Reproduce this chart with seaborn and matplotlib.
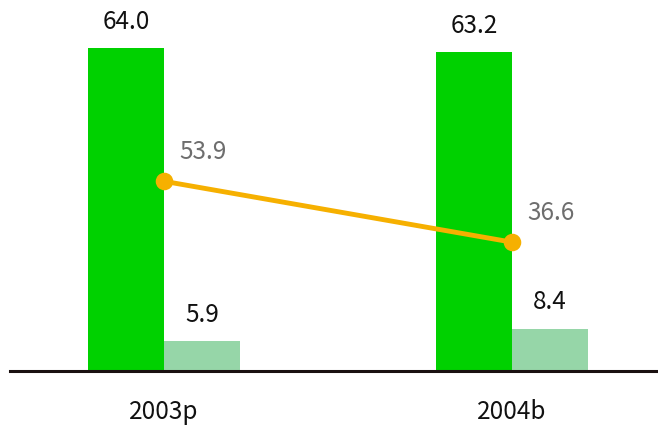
import matplotlib.pyplot as plt
import seaborn as sns
import pandas as pd

# Data
years = ["2003p", "2004b"]
series = ["main", "sub"]
main_vals = [64.0, 63.2]
sub_vals = [5.9, 8.4]
rate_vals = [53.9, 36.6]

bar_colors = ["#00d100", "#96d6a8"]
line_color = "#f6b000"

sns.set_style("white")
plt.rcParams["font.family"] = ["Noto Sans CJK JP", "DejaVu Sans"]

df = pd.DataFrame({
    "year": years * 2,
    "series": [series[0]] * len(years) + [series[1]] * len(years),
    "value": main_vals + sub_vals,
})

fig = plt.figure(figsize=(6.58, 4.30), dpi=100)
ax = fig.add_axes([10 / 658, (430 - 371) / 430, 648 / 658, 371 / 430])

sns.barplot(data=df, x="year", y="value", hue="series", palette=bar_colors,
            width=0.437, gap=0, saturation=1, legend=False, linewidth=0, ax=ax)

# bar value labels
for cont in ax.containers:
    for rect in cont:
        h = rect.get_height()
        ax.annotate(f"{h:.1f}", (rect.get_x() + rect.get_width() / 2, h),
                    xytext=(0, 19), textcoords="offset points",
                    ha="center", va="center", fontsize=17.5, color="#111111")

ax.set_xlim(-0.4425, 1.4195)
ax.set_ylim(0, 73.5)

# line on its own scale
ax2 = ax.twinx()
sns.pointplot(x=years, y=rate_vals, color=line_color, markersize=10,
              linewidth=3.5, ax=ax2)
ax2.set_xlim(-0.4425, 1.4195)
ax2.set_ylim(0, 105.4)
for i, v in enumerate(rate_vals):
    ax2.annotate(f"{v:.1f}", (i, v), xytext=(28, 21), textcoords="offset points",
                 ha="center", va="center", fontsize=17.5, color="#6e6e6e")

for a in (ax, ax2):
    for side in ["left", "right", "top"]:
        a.spines[side].set_visible(False)
    a.set_yticks([])
    a.set_ylabel("")
    a.set_xlabel("")
ax2.spines["bottom"].set_visible(False)
ax.spines["bottom"].set_color("#1a1010")
ax.spines["bottom"].set_linewidth(2.2)
ax.tick_params(axis="x", length=0, pad=20, labelsize=17.5, labelcolor="#111111")
ax2.tick_params(axis="x", length=0, labelbottom=False)

fig.savefig("out.png", dpi=100)
